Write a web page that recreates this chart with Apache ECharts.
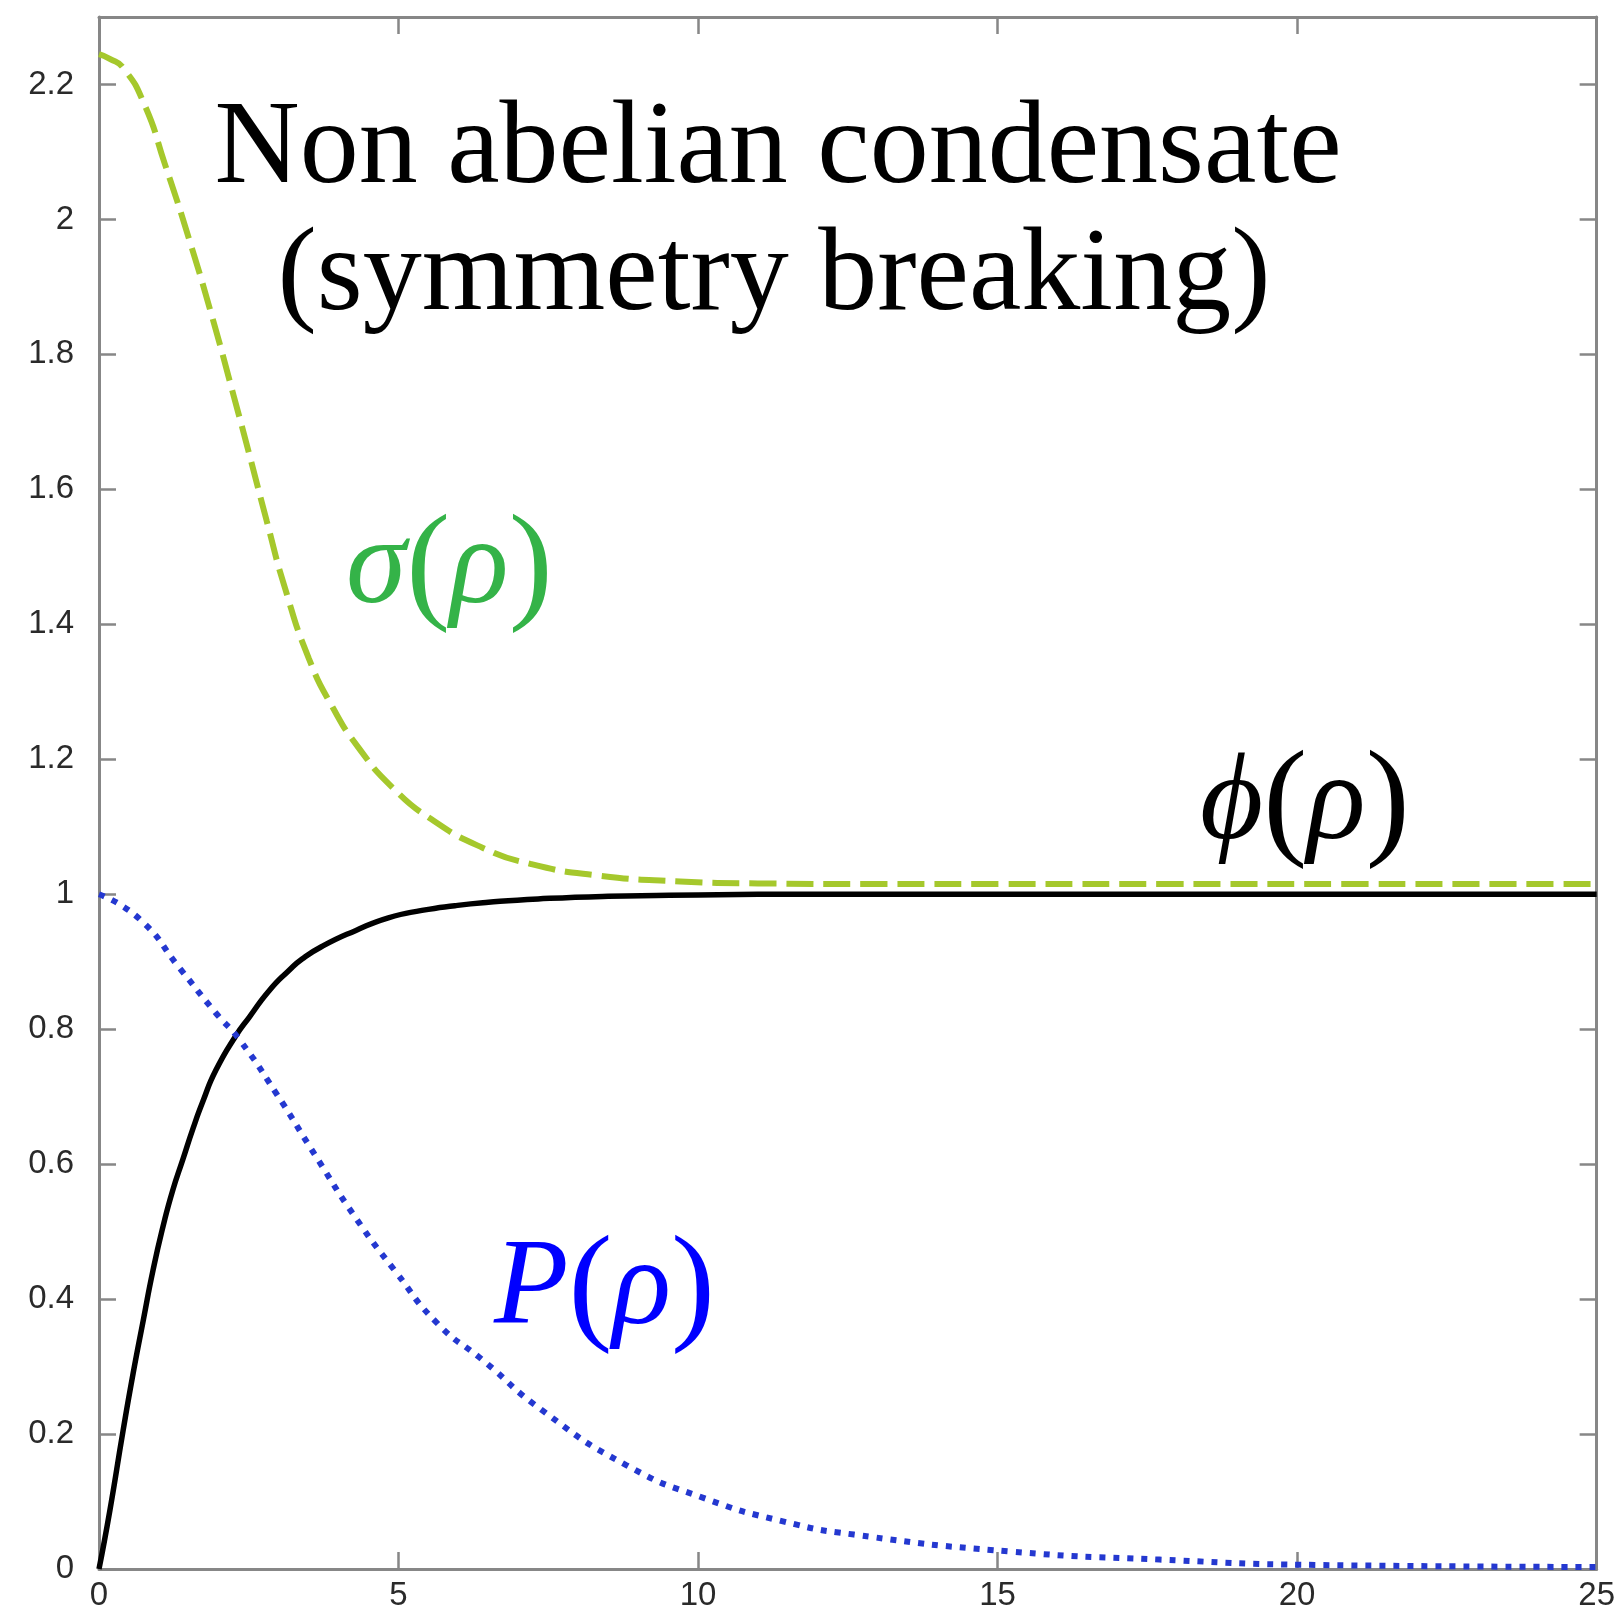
<!DOCTYPE html>
<html>
<head>
<meta charset="utf-8">
<title>Non abelian condensate</title>
<script src="https://cdn.jsdelivr.net/npm/echarts@6/dist/echarts.min.js"></script>
<style>
  html, body { margin: 0; padding: 0; background: #ffffff; }
  #chart { width: 1618px; height: 1612px; }
</style>
</head>
<body>
<div id="chart"></div>
<script>
// Radial coordinate samples and profile values for each field
const sigmaRho = [0, 0.18, 0.4, 0.75, 1.1, 1.5, 1.9, 2.25, 2.5, 2.8, 3.1, 3.5, 3.9, 4.35, 4.9, 5.55, 6.4, 7.2, 8.3, 9.7, 11, 13, 15, 18, 21, 25];
const sigmaVal = [2.245, 2.238, 2.225, 2.172, 2.082, 1.972, 1.852, 1.738, 1.655, 1.553, 1.455, 1.35, 1.277, 1.215, 1.158, 1.111, 1.069, 1.045, 1.028, 1.019, 1.016, 1.015, 1.015, 1.015, 1.015, 1.015];

const phiRho = [0, 0.18, 0.4, 0.57, 0.74, 0.9, 1.07, 1.23, 1.4, 1.57, 1.73, 1.95, 2.29, 2.51, 2.84, 3.17, 3.39, 3.73, 4.28, 4.83, 5.39, 5.94, 6.5, 7.33, 8.5, 10, 12, 15, 20, 25];
const phiVal = [0, 0.086, 0.204, 0.29, 0.369, 0.442, 0.508, 0.561, 0.607, 0.653, 0.692, 0.739, 0.791, 0.818, 0.857, 0.887, 0.904, 0.923, 0.946, 0.965, 0.976, 0.983, 0.988, 0.993, 0.997, 0.999, 1, 1, 1, 1];

const pRho = [0, 0.68, 1.35, 1.95, 2.34, 2.95, 3.61, 4.28, 4.94, 5.66, 6.4, 7.4, 8.8, 10.1, 11.4, 12.6, 15.2, 17.7, 20.3, 25];
const pVal = [1.0, 0.963, 0.89, 0.824, 0.785, 0.706, 0.613, 0.521, 0.442, 0.363, 0.31, 0.235, 0.154, 0.105, 0.071, 0.051, 0.026, 0.014, 0.006, 0.003];

// Axis ticks
const xTicks = [0, 5, 10, 15, 20, 25];
const yTickLabels = ['0', '0.2', '0.4', '0.6', '0.8', '1', '1.2', '1.4', '1.6', '1.8', '2', '2.2'];

const titleLines = ['Non abelian condensate', '(symmetry breaking)'];

const pairs = (xs, ys) => xs.map((x, i) => [x, ys[i]]);

const axisGray = '#878787';
const labelFont = { fontFamily: 'Liberation Sans, Arial, sans-serif', fontSize: 33, color: '#2a2a2a' };

function xAxisDef(pos, showLabels) {
  return {
    type: 'value', position: pos, min: xTicks[0], max: xTicks[xTicks.length - 1],
    interval: xTicks[1] - xTicks[0],
    axisLine: { show: true, onZero: false, lineStyle: { color: axisGray, width: 3 } },
    axisTick: { show: true, inside: true, length: 17, lineStyle: { color: axisGray, width: 2.5 } },
    axisLabel: Object.assign({ show: showLabels, margin: 10 }, labelFont),
    splitLine: { show: false }
  };
}
function yAxisDef(pos, showLabels) {
  return {
    type: 'value', position: pos, min: 0, max: 2.3, interval: 0.2,
    axisLine: { show: true, onZero: false, lineStyle: { color: axisGray, width: 3 } },
    axisTick: { show: true, inside: true, length: 17, lineStyle: { color: axisGray, width: 2.5 } },
    axisLabel: Object.assign({
      show: showLabels, margin: 25, showMaxLabel: false,
      formatter: (v) => yTickLabels[Math.round(v / 0.2)] || ''
    }, labelFont),
    splitLine: { show: false }
  };
}

// TeX-like math label: italic symbols, upright slightly taller parentheses
const mathStyle = (color) => ({
  i: { fontFamily: 'Liberation Serif, DejaVu Serif, serif', fontStyle: 'italic', fontSize: 122, fill: color },
  n: { fontFamily: 'Liberation Serif, DejaVu Serif, serif', fontSize: 132, fill: color }
});
const serifTitle = '118px "Liberation Serif", "Times New Roman", serif';

const chart = echarts.init(document.getElementById('chart'), null, { renderer: 'canvas' });
chart.setOption({
  backgroundColor: '#ffffff',
  animation: false,
  grid: { left: 99, right: 14, top: 17, bottom: 41, containLabel: false },
  xAxis: [xAxisDef('bottom', true), xAxisDef('top', false)],
  yAxis: [yAxisDef('left', true), yAxisDef('right', false)],
  series: [
    {
      name: 'sigma', type: 'line', data: pairs(sigmaRho, sigmaVal), showSymbol: false,
      smooth: 0.55,
      lineStyle: { color: '#a5c82c', width: 6, type: [27, 10], cap: 'butt' }, z: 3
    },
    {
      name: 'phi', type: 'line', data: pairs(phiRho, phiVal), showSymbol: false,
      smooth: 0.55,
      lineStyle: { color: '#000000', width: 5.5, type: 'solid' }, z: 2
    },
    {
      name: 'P', type: 'line', data: pairs(pRho, pVal), showSymbol: false,
      smooth: 0.55,
      lineStyle: { color: '#2438d0', width: 6, type: [6, 8], cap: 'butt' }, z: 4
    }
  ],
  graphic: [
    { type: 'text', x: 778, y: 151, z: 10, style: { text: titleLines[0], font: serifTitle, fill: '#000', textAlign: 'center', textVerticalAlign: 'middle' } },
    { type: 'text', x: 774, y: 278, z: 10, style: { text: titleLines[1], font: serifTitle, fill: '#000', textAlign: 'center', textVerticalAlign: 'middle' } },
    { type: 'text', x: 346, y: 570, z: 10, style: { text: '{i|σ}{n|(}{i|ρ}{n|)}', rich: mathStyle('#34b348'), textAlign: 'left', textVerticalAlign: 'middle' } },
    { type: 'text', x: 1200, y: 806, z: 10, style: { text: '{i|ϕ}{n|(}{i|ρ}{n|)}', rich: mathStyle('#000000'), textAlign: 'left', textVerticalAlign: 'middle' } },
    { type: 'text', x: 494, y: 1291, z: 10, style: { text: '{i|P}{n|(}{i|ρ}{n|)}', rich: mathStyle('#0000ff'), textAlign: 'left', textVerticalAlign: 'middle' } }
  ]
});
</script>
</body>
</html>
